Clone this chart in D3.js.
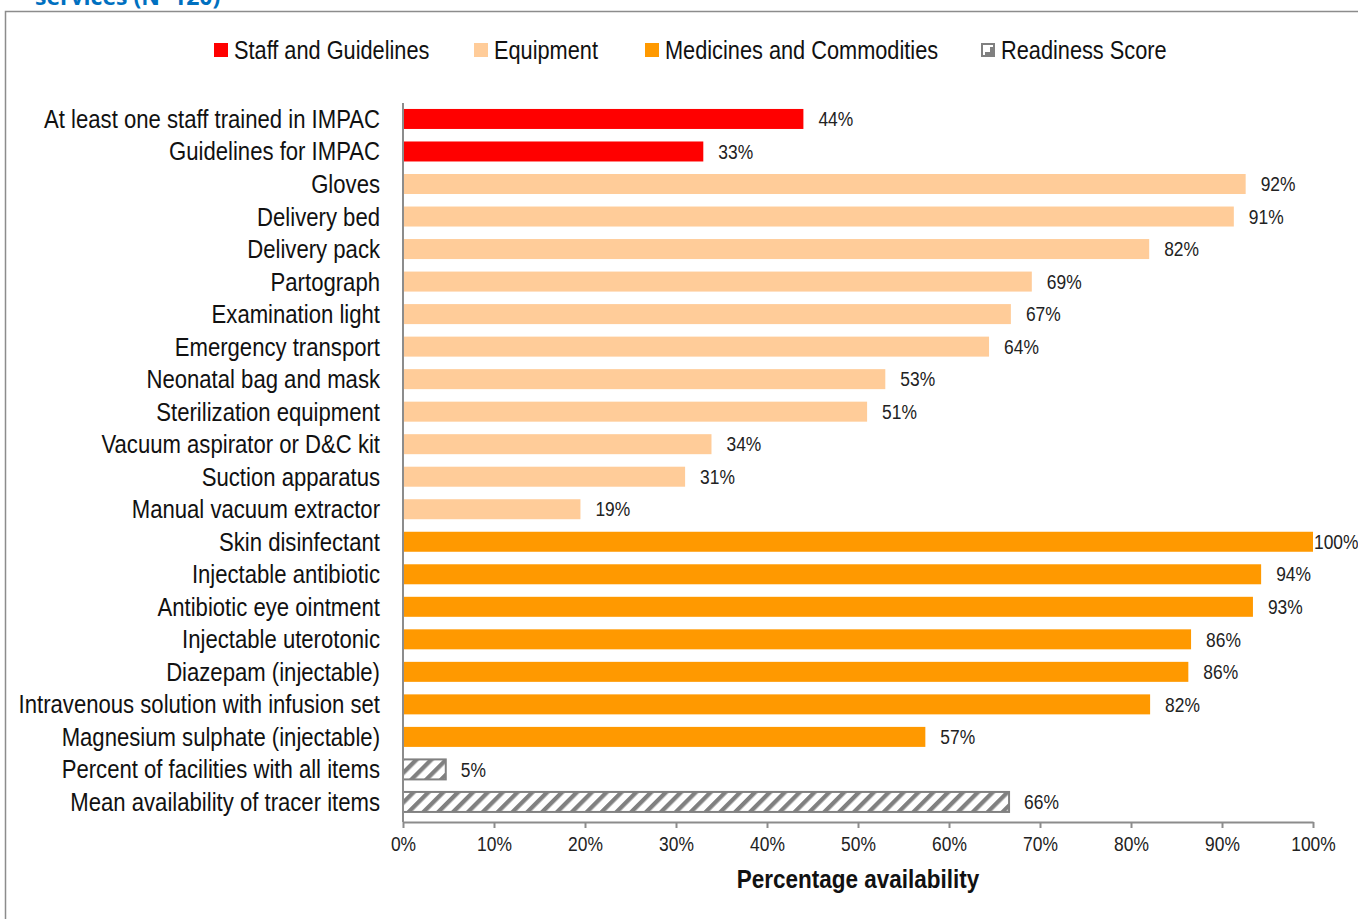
<!DOCTYPE html>
<html>
<head>
<meta charset="utf-8">
<script src="https://cdn.jsdelivr.net/npm/d3@7"></script>
<style>
  body { margin: 0; background: #fff; }
  svg { display: block; }
</style>
</head>
<body>
<div id="chart"></div>
<script>
const categories = [
    'At least one staff trained in IMPAC', 'Guidelines for IMPAC',
    'Gloves', 'Delivery bed', 'Delivery pack', 'Partograph', 'Examination light',
    'Emergency transport', 'Neonatal bag and mask', 'Sterilization equipment',
    'Vacuum aspirator or D&C kit', 'Suction apparatus', 'Manual vacuum extractor',
    'Skin disinfectant', 'Injectable antibiotic', 'Antibiotic eye ointment',
    'Injectable uterotonic', 'Diazepam (injectable)', 'Intravenous solution with infusion set',
    'Magnesium sulphate (injectable)',
    'Percent of facilities with all items', 'Mean availability of tracer items'
];
const values = [
    44.0, 33.0,
    92.6, 91.3, 82.0, 69.1, 66.8, 64.4, 53.0, 51.0, 33.9, 31.0, 19.5,
    100, 94.3, 93.4, 86.6, 86.3, 82.1, 57.4,
    4.7, 66.6
];
const valueLabels = [
    '44%', '33%',
    '92%', '91%', '82%', '69%', '67%', '64%', '53%', '51%', '34%', '31%', '19%',
    '100%', '94%', '93%', '86%', '86%', '82%', '57%',
    '5%', '66%'
];
const groups = [
    'staff', 'staff',
    'equip', 'equip', 'equip', 'equip', 'equip', 'equip', 'equip', 'equip', 'equip', 'equip', 'equip',
    'meds', 'meds', 'meds', 'meds', 'meds', 'meds', 'meds',
    'ready', 'ready'
];
const legendNames = ['Staff and Guidelines', 'Equipment', 'Medicines and Commodities', 'Readiness Score'];
const legendKeys = ['staff', 'equip', 'meds', 'ready'];
const xTicks = [0, 10, 20, 30, 40, 50, 60, 70, 80, 90, 100];

const data = categories.map((c, i) => ({
    name: c, value: values[i], label: valueLabels[i], group: groups[i]
}));

const W = 1358, H = 919;
const x0 = 403, x1 = 1313;
const font = '"Liberation Sans", Arial, sans-serif';
const squeeze = 0.87;   // no narrow font installed, so squeeze horizontally

const svg = d3.select('#chart').append('svg')
    .attr('width', W)
    .attr('height', H);

// hatch pattern for readiness bars
const defs = svg.append('defs');
defs.append('pattern')
    .attr('id', 'hatch')
    .attr('patternUnits', 'userSpaceOnUse')
    .attr('width', 10.5)
    .attr('height', 10.5)
    .attr('patternTransform', 'rotate(45)')
    .call(p => {
        p.append('rect').attr('width', 10.5).attr('height', 10.5).attr('fill', '#fff');
        p.append('rect').attr('width', 4.3).attr('height', 10.5).attr('fill', '#808080');
    });

const fills = {
    staff: '#ff0000',
    equip: '#ffcc99',
    meds: '#ff9900',
    ready: 'url(#hatch)'
};

// title (cut off at the top, as in the source)
svg.append('text')
    .attr('x', 35)
    .attr('y', 5)
    .attr('fill', '#0070c0')
    .style('font-family', '"Open Sans", "Noto Sans", sans-serif')
    .style('font-weight', 'bold')
    .style('font-size', '23px')
    .text('services (N=120)');

// outer frame
svg.append('path')
    .attr('d', `M5.5,${H + 2}V11.5H${W + 2}`)
    .attr('fill', 'none')
    .attr('stroke', '#8c8c8c')
    .attr('stroke-width', 1.5);

const x = d3.scaleLinear()
    .domain([0, 100])
    .range([x0, x1]);

const y = d3.scaleBand()
    .domain(categories)
    .range([102.7, 818.2])
    .paddingInner(0.385)
    .paddingOuter(0.1925);

const cy = d => y(d.name) + y.bandwidth() / 2;

// Bars
svg.append('g')
    .selectAll('rect')
    .data(data)
    .join('rect')
    .attr('x', x(0))
    .attr('y', d => y(d.name))
    .attr('width', d => x(d.value) - x(0))
    .attr('height', y.bandwidth())
    .attr('fill', d => fills[d.group])
    .attr('stroke', d => d.group === 'ready' ? '#808080' : 'none')
    .attr('stroke-width', 2);

// Value labels
svg.append('g')
    .selectAll('text')
    .data(data)
    .join('text')
    .attr('transform', d => {
        const px = d.value >= 100 ? x(d.value) + 1 : x(d.value) + 15;
        return `translate(${px},${cy(d)}) scale(${squeeze},1)`;
    })
    .attr('dy', '0.36em')
    .attr('fill', '#222')
    .style('font-family', font)
    .style('font-size', '20px')
    .text(d => d.label);

// Category labels
svg.append('g')
    .selectAll('text')
    .data(data)
    .join('text')
    .attr('transform', d => `translate(380,${cy(d)}) scale(0.885,1)`)
    .attr('dy', '0.36em')
    .attr('text-anchor', 'end')
    .attr('fill', '#111')
    .style('font-family', font)
    .style('font-size', '25px')
    .text(d => d.name);

// Y axis line
svg.append('line')
    .attr('x1', x0).attr('x2', x0)
    .attr('y1', 103).attr('y2', 822)
    .attr('stroke', '#8c8c8c')
    .attr('stroke-width', 2);

// X axis
const xAxis = svg.append('g')
    .attr('transform', 'translate(0,822)')
    .call(d3.axisBottom(x)
        .tickValues(xTicks)
        .tickFormat(d => d + '%')
        .tickSize(6)
        .tickSizeOuter(0)
        .tickPadding(9));
xAxis.select('.domain').attr('stroke', '#8c8c8c').attr('stroke-width', 2);
xAxis.selectAll('.tick line').attr('stroke', '#8c8c8c').attr('stroke-width', 2);
xAxis.selectAll('.tick text')
    .attr('fill', '#222')
    .attr('transform', `scale(${squeeze},1)`)
    .style('font-family', font)
    .style('font-size', '20px');

// X axis label
svg.append('text')
    .attr('transform', `translate(${(x0 + x1) / 2},888) scale(0.9,1)`)
    .attr('text-anchor', 'middle')
    .attr('fill', '#111')
    .style('font-family', font)
    .style('font-weight', 'bold')
    .style('font-size', '25px')
    .text('Percentage availability');

// Legend
const legendX = [214, 474, 645, 981];
const legend = svg.append('g');
legendKeys.forEach((k, i) => {
    const g = legend.append('g').attr('transform', `translate(${legendX[i]},43)`);
    if (k === 'ready') {
        g.append('rect').attr('x', 1).attr('y', 1).attr('width', 12).attr('height', 12)
            .attr('fill', '#fff').attr('stroke', '#808080').attr('stroke-width', 2);
        g.append('path').attr('d', 'M13,4V13H4V9H9V4Z').attr('fill', '#808080');
    } else {
        g.append('rect').attr('width', 14).attr('height', 14).attr('fill', fills[k]);
    }
    g.append('text')
        .attr('transform', `translate(20,7) scale(${squeeze},1)`)
        .attr('dy', '0.36em')
        .attr('fill', '#111')
        .style('font-family', font)
        .style('font-size', '25px')
        .text(legendNames[i]);
});
</script>
</body>
</html>
